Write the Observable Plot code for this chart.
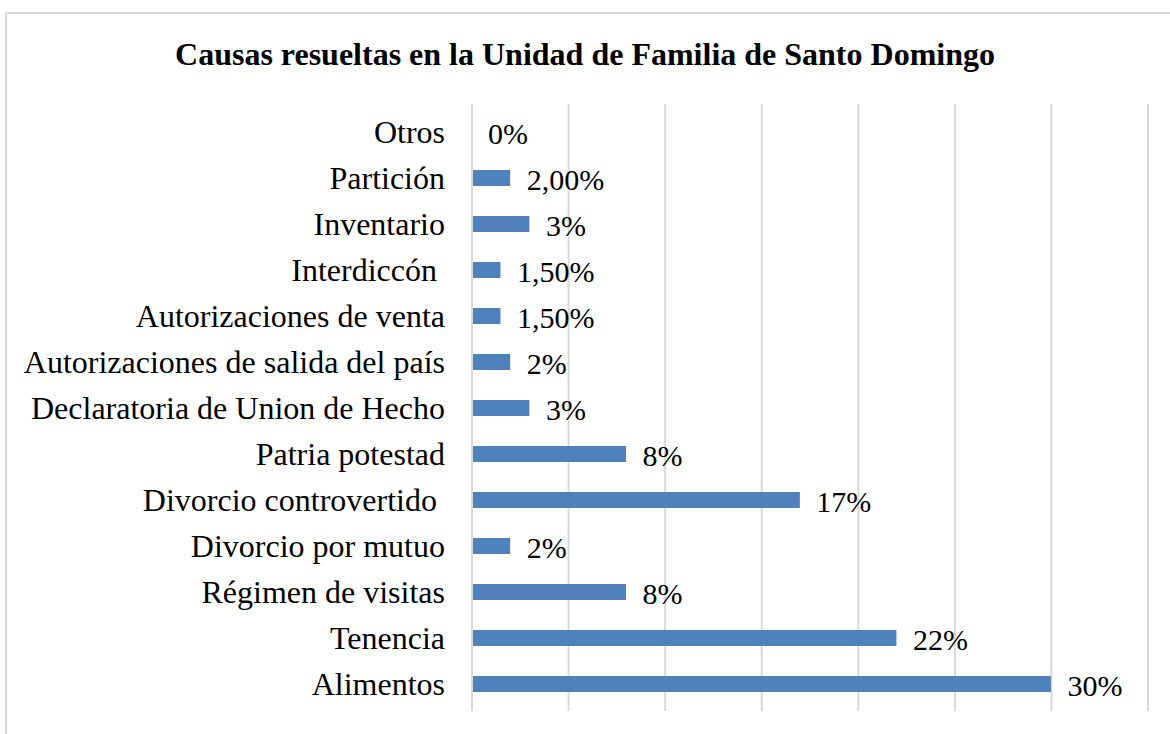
<!DOCTYPE html>
<html>
<head>
<meta charset="utf-8">
<script src="https://cdn.jsdelivr.net/npm/d3@7"></script>
<script src="https://cdn.jsdelivr.net/npm/@observablehq/plot@0.6"></script>
<style>
  html, body { margin: 0; padding: 0; background: #fff; overflow: hidden; width: 1170px; height: 734px; }
  #frame { position: absolute; left: 5px; top: 12px; width: 1300px; height: 900px; border: 2px solid #d9d9d9; box-sizing: border-box; }
  #title { position: absolute; left: 0; top: 34px; width: 1170px; text-align: center; font-family: "Liberation Serif", "Times New Roman", serif; font-weight: bold; font-size: 32px; line-height: 40px; color: #000; }
  #chart { position: absolute; left: 0; top: 0; }
</style>
</head>
<body>
<div id="frame"></div>
<div id="title">Causas resueltas en la Unidad de Familia de Santo Domingo</div>
<div id="chart"></div>
<script>
const categories = ["Otros", "Partición", "Inventario", "Interdiccón ", "Autorizaciones de venta", "Autorizaciones de salida del país", "Declaratoria de Union de Hecho", "Patria potestad", "Divorcio controvertido ", "Divorcio por mutuo", "Régimen de visitas", "Tenencia", "Alimentos"];
const values = [0, 2, 3, 1.5, 1.5, 2, 3, 8, 17, 2, 8, 22, 30];
const valueLabels = ["0%", "2,00%", "3%", "1,50%", "1,50%", "2%", "3%", "8%", "17%", "2%", "8%", "22%", "30%"];
const xTicks = [0, 5, 10, 15, 20, 25, 30, 35];

const data = categories.map((c, i) => ({cat: c, value: values[i], label: valueLabels[i]}));

const chart = Plot.plot({
  width: 1170,
  height: 734,
  marginTop: 104,
  marginBottom: 23,
  marginLeft: 471.5,
  marginRight: 22.5,
  style: {fontFamily: "'Liberation Serif', 'Times New Roman', serif", background: "transparent", overflow: "visible"},
  x: {domain: [0, 35], axis: null},
  y: {domain: categories, paddingInner: 0.657, paddingOuter: 0.3285, axis: null},
  marks: [
    Plot.ruleX(xTicks, {stroke: "#d9d9d9", strokeWidth: 2}),
    Plot.barX(data, {y: "cat", x1: 0, x2: "value", fill: "#4f81bd", insetLeft: 1.5}),
    Plot.text(data, {y: "cat", x: "value", text: "label", textAnchor: "start", dx: 16, dy: 2, fontSize: 30, fill: "#000"}),
    Plot.text(data, {y: "cat", x: 0, text: "cat", textAnchor: "end", dx: -27, dy: 0, fontSize: 32, fill: "#000"})
  ]
});
document.getElementById("chart").appendChild(chart);
</script>
</body>
</html>
